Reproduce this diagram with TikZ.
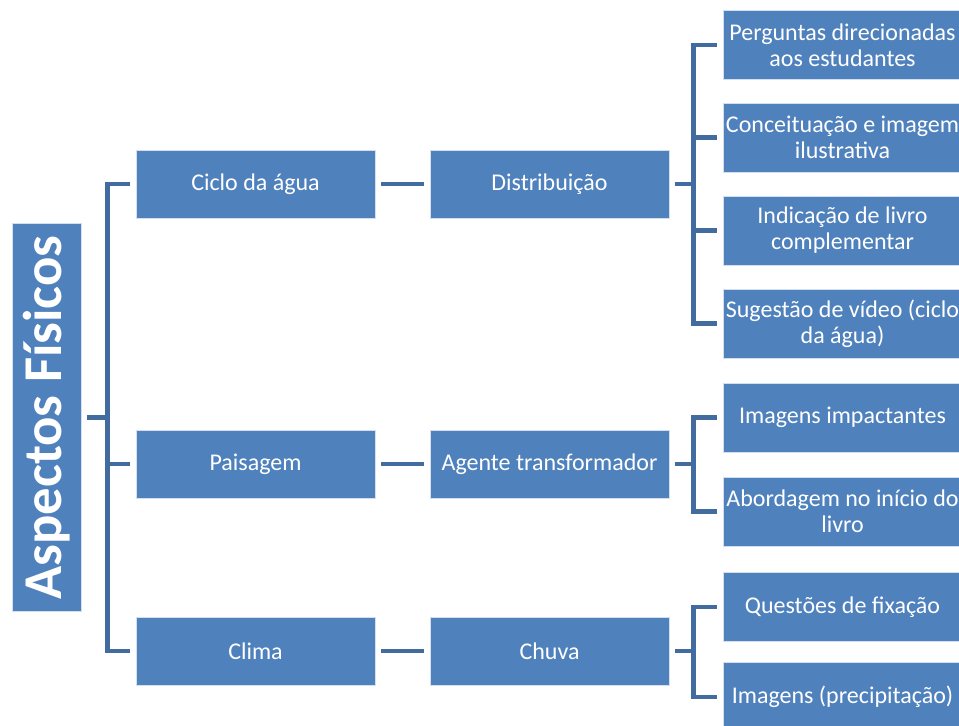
\documentclass[tikz,border=0pt]{standalone}
\usepackage{fontspec}
\setmainfont{Carlito}
\definecolor{boxblue}{RGB}{79,129,189}
\definecolor{linkblue}{RGB}{66,108,160}

\tikzset{x=0.75pt, y=-0.75pt}
\tikzset{
  box/.style={fill=boxblue, draw=white!75!boxblue, line width=0.6pt, text=white,
    minimum width=179.25pt, minimum height=51pt, inner sep=1.5pt,
    font=\fontsize{18}{19.5}\selectfont},
  leaf/.style={box, align=center, minimum height=51.75pt},
  rootbox/.style={box, rotate=90, minimum width=291pt, minimum height=51.75pt,
    font=\fontsize{41}{47}\selectfont\bfseries},
  link/.style={draw=linkblue, line width=3.6pt}
}

\begin{document}
\begin{tikzpicture}
\useasboundingbox (0,0) rectangle (959,725);

\node[rootbox] (root) at (46.5,417.5) {Aspectos Físicos};

% first column
\node[box] (n1) at (255.5,184) {Ciclo da água};
\node[box] (n2) at (255.5,464) {Paisagem};
\node[box] (n3) at (255.5,651) {Clima};

% second column
\node[box] (m1) at (549.5,184) {Distribuição};
\node[box] (m2) at (549.5,464) {Agente transformador};
\node[box] (m3) at (549.5,651) {Chuva};

% leaves, edit here for the texts
\foreach \y/\t [count=\i] in {
  45/{Perguntas direcionadas\\aos estudantes},
  137.5/{Conceituação e imagem\\ilustrativa},
  230.5/{Indicação de livro\\complementar},
  323.5/{Sugestão de vídeo (ciclo\\da água)},
  417.5/{Imagens impactantes},
  511.5/{Abordagem no início do\\livro},
  607/{Questões de fixação},
  697/{Imagens (precipitação)}}
\node[leaf] (l\i) at (842.5,\y) {\t};

% root bracket (root is turned, its south side faces right)
\draw[link] ([xshift=4.5pt]root.south) -- ++(21,0);
\draw[link] ([xshift=-4.5pt]n1.west) -- ++(-22,0) |- ([xshift=-4.5pt]n3.west);
\draw[link] ([xshift=-4.5pt]n2.west) -- ++(-22,0);

\foreach \i in {1,2,3}
\draw[link] ([xshift=4.5pt]n\i.east) -- ([xshift=-4.5pt]m\i.west);

% leaf brackets
\foreach \a/\b/\m in {1/4/1, 5/6/2, 7/8/3}{
\draw[link] ([xshift=4.5pt]m\m.east) -- ++(19,0);
\draw[link] ([xshift=-4.5pt]l\a.west) -- ++(-23,0) |- ([xshift=-4.5pt]l\b.west);
}
\foreach \i in {2,3}
\draw[link] ([xshift=-4.5pt]l\i.west) -- ++(-23,0);
\end{tikzpicture}
\end{document}
